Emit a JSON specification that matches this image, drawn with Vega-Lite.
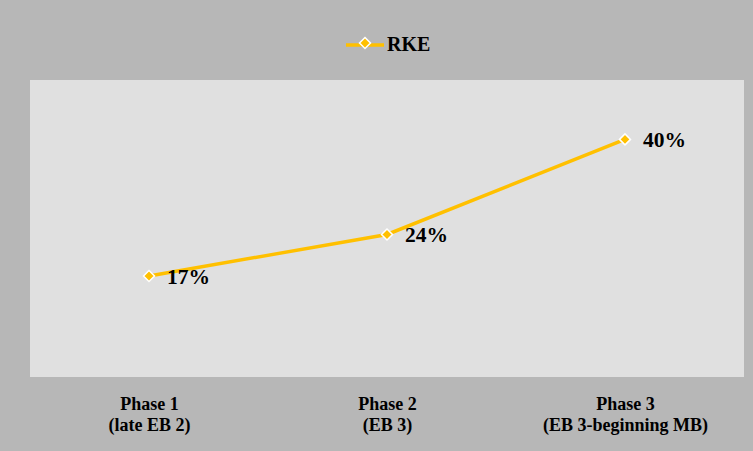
{
  "$schema": "https://vega.github.io/schema/vega-lite/v6.json",
  "width": 714,
  "height": 297,
  "autosize": {"type": "none"},
  "padding": {"left": 30, "top": 80, "right": 9, "bottom": 74},
  "background": "#b7b7b7",
  "config": {
    "view": {"fill": "#e0e0e0", "stroke": null},
    "font": "Liberation Serif"
  },
  "data": {
    "values": [
      {"phase": "Phase 1\n(late EB 2)", "share": 0.17, "series": "RKE"},
      {"phase": "Phase 2\n(EB 3)", "share": 0.24, "series": "RKE"},
      {"phase": "Phase 3\n(EB 3-beginning MB)", "share": 0.40, "series": "RKE"}
    ]
  },
  "encoding": {
    "x": {
      "field": "phase",
      "type": "nominal",
      "sort": null,
      "axis": {
        "title": null,
        "labelAngle": 0,
        "labelExpr": "split(datum.label, '\\n')",
        "labelFont": "Liberation Serif",
        "labelFontSize": 18,
        "labelFontWeight": "bold",
        "labelColor": "#000000",
        "labelLineHeight": 21,
        "labelPadding": 18,
        "ticks": false,
        "domain": false,
        "grid": false
      }
    },
    "y": {
      "field": "share",
      "type": "quantitative",
      "scale": {"domain": [0, 0.5]},
      "axis": null
    }
  },
  "layer": [
    {
      "mark": {"type": "line", "strokeWidth": 3.5},
      "encoding": {
        "color": {
          "field": "series",
          "type": "nominal",
          "scale": {"range": ["#ffc000"]},
          "legend": {
            "title": null,
            "orient": "none",
            "legendX": 314,
            "legendY": -56,
            "padding": 0,
            "symbolType": "stroke",
            "symbolSize": 1444,
            "symbolStrokeWidth": 3.5,
            "labelFont": "Liberation Serif",
            "labelFontSize": 20,
            "labelFontWeight": "bold",
            "labelColor": "#000000",
            "labelOffset": 1
          }
        }
      }
    },
    {
      "mark": {"type": "point", "shape": "diamond", "filled": true, "size": 121, "stroke": "#ffffff", "strokeWidth": 1.5, "opacity": 1},
      "encoding": {
        "color": {
          "field": "series",
          "type": "nominal",
          "legend": {
            "title": null,
            "orient": "none",
            "legendX": 325,
            "legendY": -47,
            "padding": 0,
            "symbolType": "diamond",
            "symbolSize": 121,
            "symbolStrokeColor": "#ffffff",
            "symbolStrokeWidth": 1.5,
            "symbolOpacity": 1,
            "labelFontSize": 20,
            "labelExpr": "''"
          }
        }
      }
    },
    {
      "mark": {
        "type": "text",
        "align": "left",
        "baseline": "middle",
        "dx": 18,
        "dy": 2,
        "font": "Liberation Serif",
        "fontSize": 21.5,
        "fontWeight": "bold",
        "color": "#000000"
      },
      "encoding": {
        "text": {"field": "share", "type": "quantitative", "format": ".0%"}
      }
    }
  ],
  "resolve": {"legend": {"color": "independent"}}
}
